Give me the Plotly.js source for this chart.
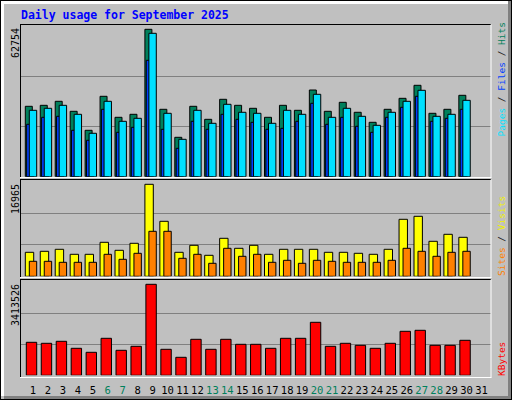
<!DOCTYPE html>
<html>
<head>
<meta charset="utf-8">
<script src="https://cdn.plot.ly/plotly-3.0.1.min.js"></script>
<style>
html, body { margin: 0; padding: 0; background: #c0c0c0; }
#chart { width: 512px; height: 400px; }
</style>
</head>
<body>
<div id="chart"></div>
<script>
// daily usage graph, September 2025

const days = [1, 2, 3, 4, 5, 6, 7, 8, 9, 10, 11, 12, 13, 14, 15, 16,
  17, 18, 19, 20, 21, 22, 23, 24, 25, 26, 27, 28, 29, 30, 31];
const weekendDays = [6, 7, 13, 14, 20, 21, 27, 28];

// top panel
const hits = [29970, 30390, 32100, 27840, 19750, 34230, 25290, 26560, 62754, 28690,
  16770, 29970, 24430, 32950, 30390, 29120, 25290, 30390, 28270, 36910,
  27840, 31670, 27420, 23160, 28690, 33370, 38910, 26990, 28690, 34650, null];
const files = [22310, 25290, 25710, 19750, 15500, 28690, 18900, 21030, 49550, 20180,
  12090, 23580, 20180, 26560, 24430, 23160, 20180, 20600, 23580, 31250,
  22310, 25290, 21460, 18900, 25290, 29540, 34230, 23580, 24860, 28690, null];
const pages = [28270, 29120, 30390, 26560, 18480, 32100, 23580, 24860, 61050, 26990,
  15920, 28270, 22730, 30820, 27420, 26990, 22730, 28270, 26560, 35080,
  25290, 29120, 25710, 21880, 27420, 32100, 36780, 25710, 26560, 32520, null];

// middle panel
const visits = [4426, 4610, 4979, 4057, 4057, 6270, 4794, 6085, 16965, 10142,
  4426, 5716, 3872, 7007, 5163, 5716, 4057, 4979, 4979, 4979,
  4426, 4426, 4241, 4057, 4979, 10511, 11064, 6454, 7745, 7192, null];
const sites = [2766, 2766, 2582, 2582, 2582, 4057, 3135, 4241, 8298, 8298,
  3319, 4057, 2397, 5163, 3688, 4057, 2582, 2950, 2397, 2950,
  2766, 2582, 2582, 2582, 2950, 5163, 4610, 3688, 4426, 4610, null];

// bottom panel
const kbytes = [1237900, 1200400, 1275400, 1012800, 862800, 1387900, 937800, 1087800, 3413526, 975300,
  675200, 1350400, 975300, 1350400, 1162800, 1162800, 1012800, 1387900, 1387900, 1988100,
  1087800, 1200400, 1125300, 1012800, 1200400, 1650500, 1688000, 1125300, 1125300, 1312900, null];

const C_HITS = '#00805c', C_FILES = '#0040ff', C_PAGES = '#00e0ff';
const C_VISITS = '#ffff00', C_SITES = '#ff8000', C_KBYTES = '#ff0000';

// pixel -> paper
const W = 512, H = 400;
const px = v => v / W;
const py = v => 1 - v / H;

const maxTop = Math.max(...hits.filter(v => v != null));
const maxMid = Math.max(...visits.filter(v => v != null));
const maxBot = Math.max(...kbytes.filter(v => v != null));
// bars top out a little below the panel top
const r1 = maxTop * 150.6 / 147.4;
const r2 = maxMid * 94.5 / 92;
const r3 = maxBot * 93 / 91;

function bar(y, color, yaxis, offset, width) {
  return {
    type: 'bar', x: days, y: y, yaxis: yaxis, xaxis: 'x',
    offset: offset, width: width,
    marker: { color: color, line: { color: '#000', width: 1 } },
    hoverinfo: 'skip'
  };
}

const traces = [
  bar(hits, C_HITS, 'y', -0.515, 0.468),
  bar(files, C_FILES, 'y', -0.424, 0.468),
  bar(pages, C_PAGES, 'y', -0.248, 0.495),
  bar(visits, C_VISITS, 'y2', -0.515, 0.562),
  bar(sites, C_SITES, 'y2', -0.248, 0.495),
  bar(kbytes, C_KBYTES, 'y3', -0.448, 0.696)
];

const tickText = days.map(d => weekendDays.includes(d)
  ? '<span style="color:' + C_HITS + '">' + d + '</span>' : String(d));

function yax(domain, r) {
  return {
    domain: domain, range: [0, r], tickmode: 'array', tickvals: [r / 3, 2 * r / 3],
    showticklabels: false, ticks: '', gridcolor: '#808080', gridwidth: 1,
    zeroline: false, showline: false, fixedrange: true
  };
}

function line(x0, y0, x1, y1, color, w) {
  return { type: 'line', xref: 'paper', yref: 'paper', x0: px(x0), y0: py(y0), x1: px(x1), y1: py(y1),
    line: { color: color, width: w || 1 }, layer: 'above' };
}
function box(x0, y0, x1, y1, color) {
  return { type: 'rect', xref: 'paper', yref: 'paper', x0: px(x0), y0: py(y0), x1: px(x1), y1: py(y1),
    fillcolor: color, line: { width: 0 }, layer: 'below' };
}

const shapes = [
  // outer bevel
  box(0, 0, 512, 1, '#000'), box(0, 0, 1, 400, '#000'),
  box(511, 0, 512, 400, '#000'), box(0, 399, 512, 400, '#000'),
  box(1, 1, 508, 4, '#fff'), box(1, 1, 4, 396, '#fff'),
  box(508, 1, 511, 399, '#808080'), box(4, 396, 511, 399, '#808080')
];
// inset panels
[[24.5, 177.5], [179.5, 277.5], [279.5, 377.5]].forEach(p => {
  shapes.push(line(20, p[0], 491, p[0], '#000'));
  shapes.push(line(20.5, p[0], 20.5, p[1], '#000'));
  shapes.push(line(20, p[1], 491.5, p[1], '#fff'));
  shapes.push(line(491, p[0], 491, p[1], '#fff'));
});

const mono = 'DejaVu Sans Mono, monospace';
function vtext(text, x, y, anchor, size) {
  return { text: text, xref: 'paper', yref: 'paper', x: px(x), y: py(y), textangle: -90,
    xanchor: 'center', yanchor: anchor, showarrow: false, borderpad: 0,
    font: { family: mono, size: size, color: '#000' } };
}
const slash = '<span style="color:#202020">/</span>';

const annotations = [
  { text: 'Daily usage for September 2025', xref: 'paper', yref: 'paper', x: px(19), y: py(15),
    xanchor: 'left', yanchor: 'middle', showarrow: false,
    font: { family: mono, size: 11.5, color: '#0000ff', weight: 'bold' } },
  vtext(String(maxTop), 15, 27, 'top', 10),
  vtext(String(maxMid), 15, 183, 'top', 10),
  vtext(String(maxBot), 15, 283, 'top', 10),
  vtext('<span style="color:' + C_PAGES + '">Pages</span> ' + slash + ' <span style="color:' + C_FILES +
    '">Files</span> ' + slash + ' <span style="color:' + C_HITS + '">Hits</span>', 501, 138, 'bottom', 9.5),
  vtext('<span style="color:' + C_SITES + '">Sites</span> ' + slash + ' <span style="color:#f0f000">Visits</span>',
    501, 277, 'bottom', 9.5),
  vtext('<span style="color:' + C_KBYTES + '">KBytes</span>', 501, 377, 'bottom', 9.5)
];

const layout = {
  width: W, height: H,
  margin: { l: 0, r: 0, t: 0, b: 0 },
  paper_bgcolor: '#c0c0c0', plot_bgcolor: 'rgba(0,0,0,0)',
  showlegend: false, barmode: 'overlay',
  xaxis: {
    domain: [px(20), px(491)], range: [0.13, 31.636], anchor: 'y3',
    tickmode: 'array', tickvals: days, ticktext: tickText, ticks: '',
    showgrid: false, zeroline: false, showline: false, fixedrange: true,
    tickfont: { family: mono, size: 10.5, color: '#000' }, ticklabelstandoff: 7
  },
  yaxis: yax([py(176.7), py(26.1)], r1),
  yaxis2: yax([py(276.3), py(181.8)], r2),
  yaxis3: yax([py(375.3), py(282.3)], r3),
  shapes: shapes,
  annotations: annotations
};

Plotly.newPlot('chart', traces, layout, { displayModeBar: false, staticPlot: true });
</script>
</body>
</html>
